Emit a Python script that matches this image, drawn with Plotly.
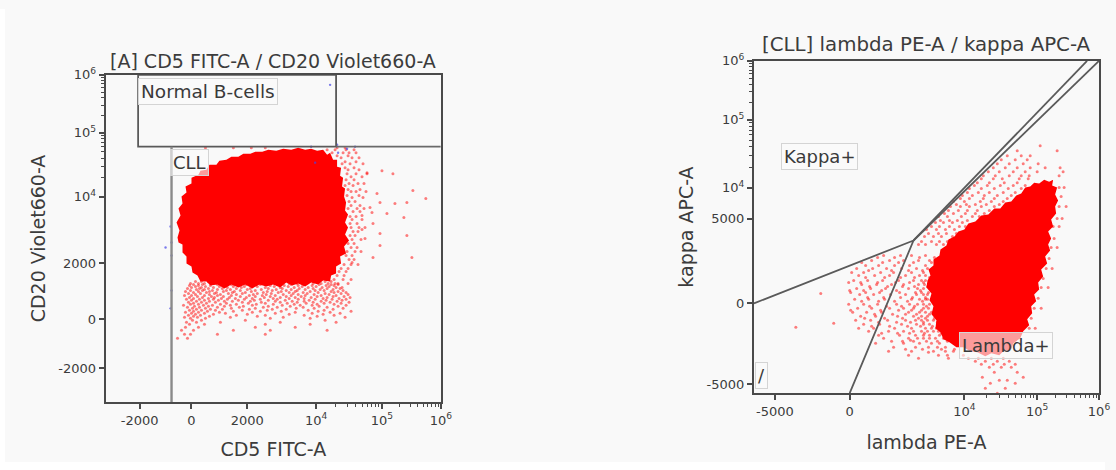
import math
import plotly.graph_objects as go

FONT = "DejaVu Sans"
TXT = "#3c3c3c"
FRAME = "#4a4a4a"
GATE = "#5a5a5a"

# ---- Left panel: CD5 FITC-A / CD20 Violet660-A, positions in display channels
L_X_TICKS = [34, 86, 142, 211, 277, 336]
L_X_LABELS = ["-2000", "0", "2000", "10<sup>4</sup>", "10<sup>5</sup>", "10<sup>6</sup>"]
L_Y_TICKS = [34, 83, 139, 206, 270, 328]
L_Y_LABELS = ["-2000", "0", "2000", "10<sup>4</sup>", "10<sup>5</sup>", "10<sup>6</sup>"]

L_CORE = [(72,165),(74,172),(71,180),(75,187),(73,194),(77,199),(76,206),(81,210),(80,216),(86,219),(86,225),(93,228),(95,232),(101,233),(104,238),(111,238),(114,242),(121,243),(126,246),(133,246),(138,249),(145,249),(150,251),(157,251),(163,253),(171,252),(178,254),(186,253),(193,255),(200,253),(206,254),(212,252),(218,253),(222,248),(225,250),(228,243),(232,243),(232,236),(236,235),(235,227),(238,225),(237,216),(240,214),(239,206),(241,200),(240,192),(243,188),(240,180),(243,175),(240,168),(244,162),(239,156),(241,149),(235,146),(236,139),(231,136),(231,129),(226,127),(225,121),(218,122),(213,118),(206,120),(200,116),(193,119),(187,117),(181,120),(175,115),(168,118),(161,116),(154,118),(147,114),(140,118),(133,115),(126,118),(119,114),(112,118),(105,117),(101,121),(95,121),(92,127),(87,130),(86,136),(81,139),(81,146),(77,150),(77,158),(73,160)]

# sparse events, listed row by row as (channel y, [channel x ...])
L_ROWS = [
    (121,[90,96,103,110,118,127,134,142,150,158,165,173,180,189,196,204,212,220,226]),
    (119,[85,93,99,107,114,123,130,138,146,153,161,169,176,184,192,200,208,216,223,230]),
    (118,[88,97,112,126,141,155,172,186,199,214,226,233]),(117,[84,93,105,119,134,148,165,179,193,207,221,229]),
    (116,[90,100,114,128,139,152,169,183,197,211,224]),(115,[86,96,108,122,136,160,175,189,203,217,231,237]),
    (114,[82,94,103,117,131,145,163,177,194,208,222,235]),(113,[91,99,112,125,142,156,171,186,200,215,228]),
    (112,[85,97,107,121,135,150,167,181,192,210,219,238]),(111,[80,93,104,118,129,146,162,176,190,205,226,233]),
    (110,[88,101,111,127,140,158,173,184,198,213,229,241]),(109,[83,95,109,123,137,152,166,188,202,220,236]),
    (108,[90,104,115,131,148,161,178,193,209,224,243]),(107,[79,86,99,112,126,144,157,170,186,200,216,231]),
    (106,[92,106,118,135,150,165,181,196,212,228,239]),(105,[84,97,109,124,141,159,175,190,206,222,245]),
    (104,[88,103,116,130,147,168,184,199,218,234]),(103,[81,94,108,122,139,155,172,193,210,227,241]),
    (102,[86,99,113,133,149,163,180,204,221,237]),(101,[91,104,119,127,145,170,187,199,216,232]),
    (100,[83,96,110,137,156,175,192,208,225,244]),(99,[88,101,121,143,160,182,201,219,236]),
    (98,[85,93,115,131,151,168,189,212,229]),(97,[78,98,107,125,147,177,195,207,241]),
    (96,[89,103,119,138,163,185,214,233]),(95,[82,94,112,134,158,172,198,222]),
    (94,[87,100,126,150,191,209,238]),(93,[91,105,117,144,167,181,228]),(92,[84,96,110,137,162,203,219]),
    (91,[88,102,128,155,176,213,246]),(90,[80,93,114,147,190,225]),(89,[86,99,120,170,207,235]),
    (88,[90,108,142,184,218]),(87,[83,95,131,160,199,229]),(86,[88,104,152,212]),(85,[79,92,125,178,240]),
    (84,[85,100,165,205]),(82,[87,96,140,220]),(80,[81,91,115,175,231]),(78,[84,99,160,205]),
    (75,[80,93,150,190]),(72,[76,88,128,165,222]),(68,[79,85,112,160]),(64,[72,82]),
    (255,[100,128,146,160,232,240]),(253,[222,230,241,249]),(250,[227,238,244,251]),(247,[232,243]),(245,[236,247,254]),
    (241,[240,251]),(239,[237,245,258]),(235,[240,249]),(233,[243,254]),(229,[242,251,262]),(226,[246,257]),
    (223,[241,249]),(219,[244,253,259]),(217,[240,248]),(213,[243,255]),(211,[246,251,261]),(207,[242,254]),
    (205,[247,258]),(201,[244,250]),(197,[246,255]),(194,[243,252,259]),(191,[248,255]),(186,[245,251]),
    (183,[247,257]),(179,[245,252]),(175,[246,254,260]),(171,[248,253]),(167,[245,250]),(163,[247,256]),
    (159,[243,249]),(155,[246,252]),(151,[242,250,256]),(147,[241,247]),(143,[244,249]),(138,[239,246,253]),
    (134,[236,243]),(131,[234,241]),(127,[232,239]),(123,[229,238,246]),(119,[233,243]),
    (232,[277]),(230,[262]),(229,[288]),(212,[308]),(209,[272]),(204,[321]),(200,[275,302]),(199,[290]),
    (195,[265]),(190,[267]),(189,[282]),(187,[257]),(185,[299]),(179,[268]),(173,[257]),(169,[275]),(167,[302]),
    (164,[260]),(157,[275]),(145,[268,307]),(140,[247]),
]
L_BLUE_X = [65,66,66,66,65,206,225,232,233,242,250,210,60]
L_BLUE_Y = [176,160,147,112,94,256,318,258,250,254,256,240,155]

L_NORMAL_GATE_X = [32.5, 32.5, 231, 231, 32.5]
L_NORMAL_GATE_Y = [328, 256, 256, 328, 328]
L_TOP_LINE_X = [231, 336]
L_TOP_LINE_Y = [256, 256]
L_CLL_GATE_X = [66, 66]
L_CLL_GATE_Y = [256, 0]

# ---- Right panel: lambda PE-A / kappa APC-A
R_X_TICKS = [21, 96, 211, 284, 346]
R_X_LABELS = ["-5000", "0", "10<sup>4</sup>", "10<sup>5</sup>", "10<sup>6</sup>"]
R_Y_TICKS = [9, 90, 175, 206, 274, 333]
R_Y_LABELS = ["-5000", "0", "5000", "10<sup>4</sup>", "10<sup>5</sup>", "10<sup>6</sup>"]

R_CORE = [(174,113),(177,118),(175,124),(180,128),(180,134),(186,138),(187,144),(193,148),(195,154),(201,157),(205,162),(211,164),(215,170),(222,172),(228,178),(235,179),(241,185),(247,185),(252,191),(258,192),(263,198),(268,200),(272,206),(277,207),(281,211),(286,210),(291,214),(296,212),(300,214),(299,208),(304,206),(302,199),(305,193),(302,187),(303,180),(298,174),(300,167),(295,162),(298,155),(295,149),(297,143),(292,137),(294,130),(288,124),(290,117),(285,111),(286,104),(281,99),(283,92),(278,87),(279,80),(274,74),(276,68),(270,62),(267,55),(260,50),(258,44),(250,42),(246,38),(238,40),(232,37),(224,41),(217,42),(210,46),(203,46),(196,51),(190,54),(187,61),(182,65),(183,73),(178,79),(180,87),(176,93),(178,100),(173,106)]

R_ROWS = [
    (138,[130,147,158,172]),(136,[124,141,166,181]),(133,[118,136,150,165,176]),(131,[108,129,145,160,178]),
    (128,[112,125,141,156,172]),(125,[103,119,133,148,163,174]),(123,[115,138,155,169]),
    (121,[98,110,127,140,158,170]),(118,[105,121,136,152,166,172]),(116,[112,131,147,161,176]),
    (113,[100,114,129,145,160,168,172]),(111,[95,107,124,142,156,170]),(109,[108,123,138,150,165,171]),
    (107,[116,134,149,161,174]),(105,[103,117,132,155,164,170]),(103,[96,110,128,143,167]),
    (101,[97,112,126,146,162,168,175]),(99,[106,120,137,152,163,170,174]),(96,[114,130,147,159,172]),
    (94,[101,115,131,158,166,172,174]),(92,[108,125,141,154,169]),(89,[95,110,124,143,156,164,170,176]),
    (87,[116,133,148,161,173]),(85,[104,118,136,150,160,170,175]),(83,[97,127,145,158,168]),
    (81,[99,113,128,155,166,172,178]),(79,[121,139,152,163,176]),(77,[107,122,144,160,168,174]),
    (75,[111,131,149,165,172,181]),(73,[102,117,134,152,162,168,174,180]),(71,[125,143,157,170,184]),
    (69,[110,126,148,163,170,176]),(67,[118,136,154,167,179]),(65,[105,120,141,158,172,178,183]),
    (62,[115,135,150,160,168,174,180,185]),(60,[128,144,156,171,188]),(58,[125,146,162,170,176,186]),
    (55,[130,155,164,170,176,182,190]),(52,[138,149,160,173,184,194]),(50,[122,150,166,178,186]),
    (46,[140,162,175,184,192]),(44,[152,169,188,201]),(42,[135,158,180,192,200]),(38,[155,185,194,210]),
    (35,[165,195,215,225,238,250]),(32,[222,232,244,256]),(29,[228,240,251,262]),(26,[236,248,258]),
    (21,[264,241]),(16,[270,229]),(13,[254,246]),(10,[237,262]),(5,[232,252]),(0,[244]),
    (149,[165,172,183,190]),(152,[168,178,186,194]),(157,[171,180,188,199]),(160,[175,185,193,203]),
    (164,[173,183,192,201]),(167,[178,186,196,206,212]),(171,[182,190,199,209]),(173,[187,196,204,214]),
    (177,[185,194,208,219,226]),(180,[191,200,212,222,231]),(183,[195,205,214,224,236]),(187,[197,207,216,228,241]),
    (189,[203,213,222,233,246]),(192,[200,211,227,238,250]),(195,[207,216,230,241,254]),(198,[209,219,231,244,258]),
    (201,[214,225,236,250,262]),(205,[216,228,241,255,268]),(208,[221,234,247,260,272]),(211,[224,236,251,264]),
    (215,[228,240,249,266,275]),(218,[230,242,256,268,276,306]),(222,[235,246,260,272,284,310]),(226,[240,252,264,277,292,307]),
    (230,[244,256,270,285]),(234,[248,262,274]),(238,[254,268,277]),(243,[264,304]),(248,[287]),
    (206,[306,311]),(197,[308]),(187,[306,313]),(175,[304,309]),(167,[300,306]),(155,[301]),(146,[298,304]),(135,[296]),
    (125,[293,299]),(115,[290]),(106,[288,295]),(95,[285]),(85,[281,288]),(75,[278]),(65,[276,282]),
    (53,[157]),(41,[175]),(100,[67]),(70,[80]),(66,[42]),
]

R_LOWER_GATE_X = [0, 160, 96]
R_LOWER_GATE_Y = [90, 153, 0]
R_DIAG_A_X = [160, 334]
R_DIAG_A_Y = [153, 333]
R_DIAG_B_X = [160, 346]
R_DIAG_B_Y = [153, 333]


def minor_positions(decade_positions):
    """Log minor ticks between each pair of decade positions of an axis."""
    out = []
    for a, b in decade_positions:
        out += [a + (b - a) * math.log10(m) for m in range(2, 10)]
    return out


def flatten(rows):
    xs, ys = [], []
    for y, row in rows:
        xs += row
        ys += [y] * len(row)
    return xs, ys


fig = go.Figure()

XA, YA, XB, YB = "x", "y", "x2", "y2"
RED = "#ff0000"
DOTS = "rgba(255,0,0,0.5)"


def poly(pairs, color, xa, ya, name):
    x, y = zip(*pairs)
    fig.add_trace(go.Scatter(x=list(x), y=list(y), xaxis=xa, yaxis=ya, mode="lines", fill="toself",
                             fillcolor=color, line=dict(width=0), name=name,
                             hoverinfo="skip", showlegend=False))


def dots(x, y, color, size, xa, ya, name):
    fig.add_trace(go.Scatter(x=x, y=y, xaxis=xa, yaxis=ya, mode="markers",
                             marker=dict(color=color, size=size, line=dict(width=0)),
                             name=name, showlegend=False))


def gate(x, y, xa, ya, name, color=GATE, width=1.8):
    fig.add_trace(go.Scatter(x=x, y=y, xaxis=xa, yaxis=ya, mode="lines",
                             line=dict(color=color, width=width), name=name,
                             hoverinfo="skip", showlegend=False))


lx, ly = flatten(L_ROWS)
rx, ry = flatten(R_ROWS)
dots(lx, ly, DOTS, 3, XA, YA, "CLL events")
poly(L_CORE, RED, XA, YA, "CLL dense")
dots(L_BLUE_X, L_BLUE_Y, "rgba(70,70,230,0.7)", 2.4, XA, YA, "Other events")
gate(L_NORMAL_GATE_X, L_NORMAL_GATE_Y, XA, YA, "Normal B-cells gate")
gate(L_TOP_LINE_X, L_TOP_LINE_Y, XA, YA, "Upper limit", "#6a6a6a")
gate(L_CLL_GATE_X, L_CLL_GATE_Y, XA, YA, "CLL gate", "#8a8a8a", 2.4)

dots(rx, ry, DOTS, 3, XB, YB, "Events")
poly(R_CORE, RED, XB, YB, "Lambda dense")
gate(R_LOWER_GATE_X, R_LOWER_GATE_Y, XB, YB, "Kappa lower gate")
gate(R_DIAG_A_X, R_DIAG_A_Y, XB, YB, "Kappa upper gate")
gate(R_DIAG_B_X, R_DIAG_B_Y, XB, YB, "Lambda upper gate")

W, H = 1116, 470
# The photographed plot area measured 1108 x 462 with an 8 px top offset.
PW, PH, PTOP = 1108, 462, 8


def fx(px):
    return px / PW


def fy(py):
    return 1 - (py - PTOP) / PH


def axis(domain, rng, ticks, labels, minors, title, standoff, anchor):
    return dict(
        domain=domain, range=rng, anchor=anchor, tickmode="array", tickvals=ticks, ticktext=labels,
        ticks="outside", ticklen=5, tickwidth=1.5, tickcolor=FRAME, showgrid=False, zeroline=False,
        showline=True, mirror=True, linecolor=FRAME, linewidth=2,
        tickfont=dict(family=FONT, size=13, color=TXT),
        title=dict(text=title, standoff=standoff, font=dict(family=FONT, size=19, color=TXT)),
        minor=dict(tickmode="array", tickvals=minors, ticks="outside", ticklen=3,
                   tickwidth=1, tickcolor=FRAME, showgrid=False),
    )


layout = dict(
    width=W, height=H, margin=dict(l=0, r=0, t=0, b=0), autosize=False,
    paper_bgcolor="#f9f9f9", plot_bgcolor="#f9f9f9", showlegend=False,
    font=dict(family=FONT, color=TXT),
    xaxis=axis([fx(106), fx(442)], [0, 336], L_X_TICKS, L_X_LABELS,
               minor_positions([(211, 277), (277, 336)]), "CD5 FITC-A", 16, "y"),
    yaxis=axis([fy(402), fy(74)], [0, 328], L_Y_TICKS, L_Y_LABELS,
               minor_positions([(206, 270), (270, 328)]), "CD20 Violet660-A", 8, "x"),
    xaxis2=axis([fx(756), fx(1102)], [0, 346], R_X_TICKS, R_X_LABELS,
                minor_positions([(211, 284), (284, 346)]), "lambda PE-A", 18, "y2"),
    yaxis2=axis([fy(393), fy(60)], [0, 333], R_Y_TICKS, R_Y_LABELS,
                minor_positions([(206, 274), (274, 333)]), "kappa APC-A", 8, "x2"),
    shapes=[
        dict(type="rect", xref="paper", yref="paper", x0=0, x1=fx(5), y0=0, y1=1,
             fillcolor="#ffffff", line=dict(width=0), layer="below"),
        dict(type="rect", xref="paper", yref="paper", x0=0, x1=1, y0=0, y1=fy(462),
             fillcolor="#ffffff", line=dict(width=0), layer="below"),
    ],
)


def label(text, x, y, xref, yref, size=18):
    return dict(text=text, x=x, y=y, xref=xref, yref=yref, showarrow=False,
                font=dict(family=FONT, size=size, color="#3a3a3a"),
                bgcolor="rgba(250,250,250,0.62)", bordercolor="#d4d4d4", borderwidth=1, borderpad=2)


def head(text, x, y, size=19):
    return dict(text=text, x=fx(x), y=fy(y), xref="paper", yref="paper", showarrow=False,
                xanchor="center", yanchor="middle",
                font=dict(family=FONT, size=size, color=TXT))


layout["annotations"] = [
    head("[A] CD5 FITC-A / CD20 Violet660-A", 274, 60),
    head("[CLL] lambda PE-A / kappa APC-A", 929, 44, 19.8),
    label("Normal B-cells", 103, 311, "x", "y", 18.5),
    label("CLL", 84, 240, "x", "y"),
    label("Kappa+", 66, 237, "x2", "y2"),
    label("Lambda+", 253, 48, "x2", "y2"),
    label("/", 8, 18, "x2", "y2"),
]
fig.update_layout(**layout)
fig.write_html(
    "out.html",
    config={"displayModeBar": False},
    post_script="document.body.style.margin='0';document.documentElement.style.overflow='hidden';"
                "Plotly.relayout('{plot_id}',{width:1116,height:470});",
)
